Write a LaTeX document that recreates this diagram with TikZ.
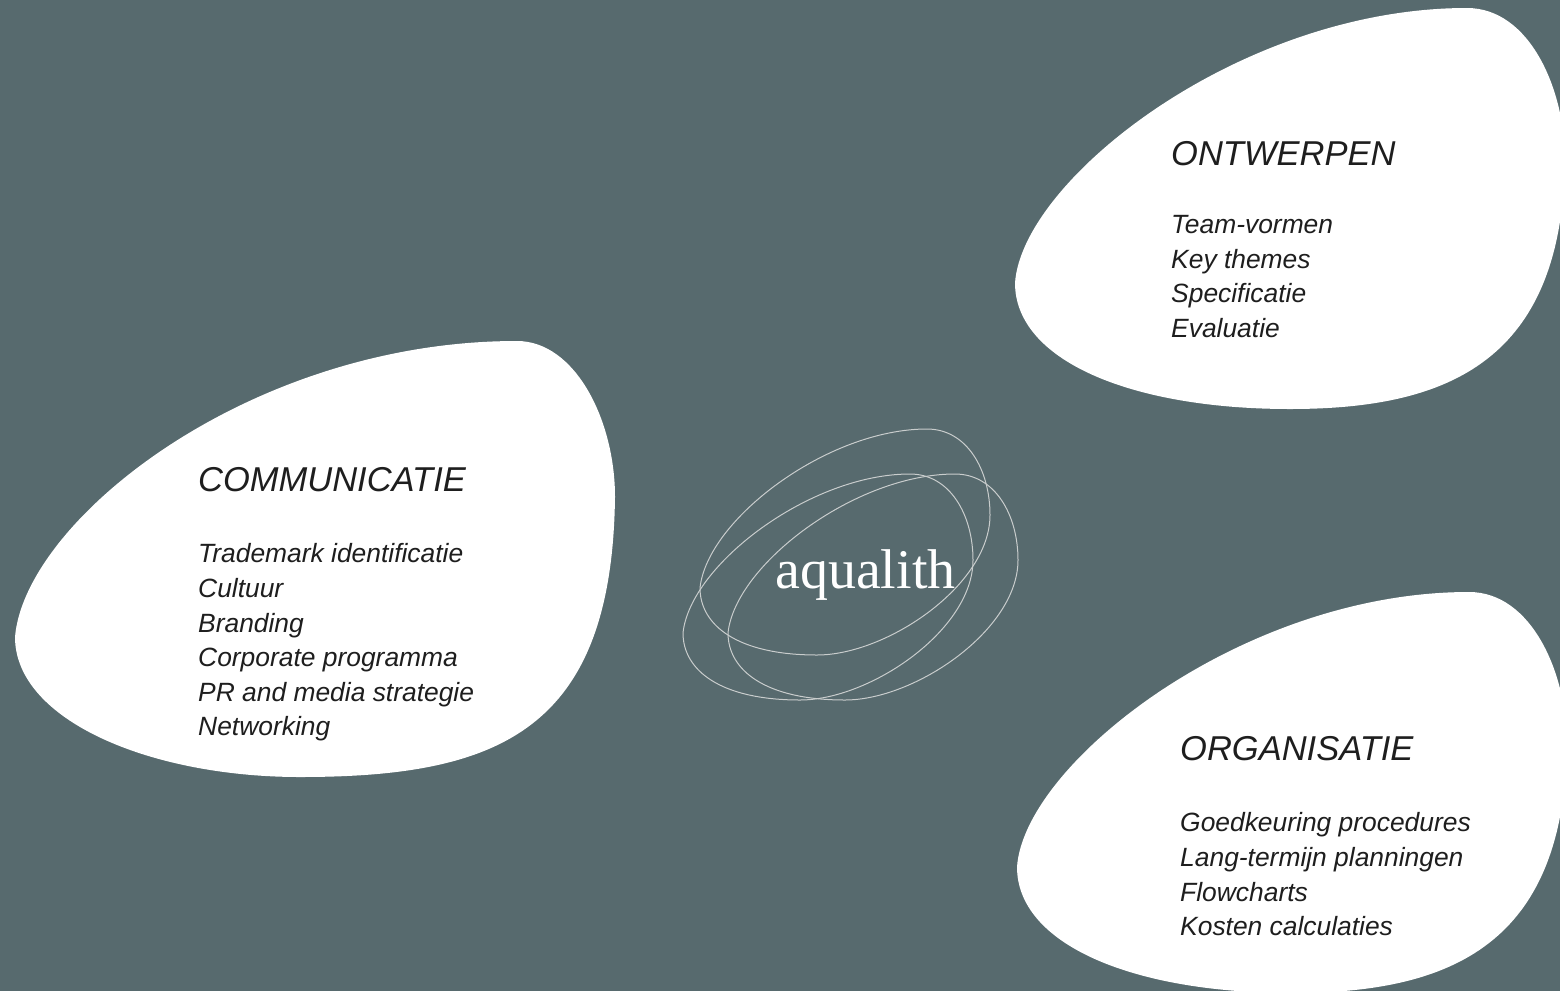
\documentclass[tikz,border=0pt]{standalone}
\usepackage{fontspec}
\setmainfont{Liberation Sans}
\newfontfamily\logofont{Liberation Serif}
\definecolor{bg}{HTML}{576A6E}
\definecolor{ink}{HTML}{1E1E1E}
\definecolor{logoline}{HTML}{C9CDCD}
\begin{document}
\begin{tikzpicture}[x=1pt,y=-1pt,
  blob/.style={fill=white, draw=none},
  titletext/.style={anchor=base west, text=ink, font=\fontsize{34.5}{40}\selectfont\itshape, inner sep=0pt},
  itemtext/.style={anchor=base west, text=ink, font=\fontsize{26.4}{30}\selectfont\itshape, inner sep=0pt},
  pebble/.style={draw=logoline, line width=1pt},
  peb/.pic={\draw[pebble] (683,633) .. controls (690,565) and (810,474) .. (910,474)
      .. controls (950,474) and (973,515) .. (973,560)
      .. controls (973,630) and (870,700) .. (800,700)
      .. controls (720,700) and (683,670) .. (683,633) -- cycle;},
  rblob/.pic={\fill[blob] (1015,283) .. controls (1022,180) and (1240,8) .. (1467,8)
      .. controls (1530,8) and (1565,90) .. (1565,160)
      .. controls (1562,360) and (1450,409) .. (1290,409)
      .. controls (1130,409) and (1015,360) .. (1015,283) -- cycle;}]
\fill[bg] (0,0) rectangle (1560,991);
\useasboundingbox (0,0) rectangle (1560,991);

% white blobs
\fill[blob] (15,637) .. controls (25,520) and (250,341) .. (517,341)
  .. controls (575,341) and (615,420) .. (615,497)
  .. controls (612,730) and (500,777) .. (300,777)
  .. controls (150,777) and (15,720) .. (15,637) -- cycle;
\begin{scope}
  \clip (0,0) rectangle (1560,991);
  \pic at (0,0) {rblob};
  \pic at (2,584) {rblob};
\end{scope}

% logo
\pic at (0,0) {peb};
\pic at (17,-45) {peb};
\pic at (45,0) {peb};
\node[anchor=base west, inner sep=0pt, text=white, font=\logofont\fontsize{56}{60}\selectfont] (logo) at (775,588) {aqualith};

% COMMUNICATIE
\node[titletext] (c0) at (198,491) {COMMUNICATIE};
\node[itemtext] (c1) at (198,562) {Trademark identificatie};
\node[itemtext] (c2) at (198,597) {Cultuur};
\node[itemtext] (c3) at (198,632) {Branding};
\node[itemtext] (c4) at (198,666) {Corporate programma};
\node[itemtext] (c5) at (198,701) {PR and media strategie};
\node[itemtext] (c6) at (198,735) {Networking};

% ONTWERPEN
\node[titletext] (o0) at (1171,165) {ONTWERPEN};
\node[itemtext] (o1) at (1171,233) {Team-vormen};
\node[itemtext] (o2) at (1171,268) {Key themes};
\node[itemtext] (o3) at (1171,302) {Specificatie};
\node[itemtext] (o4) at (1171,337) {Evaluatie};

% ORGANISATIE
\node[titletext] (g0) at (1180,760) {ORGANISATIE};
\node[itemtext] (g1) at (1180,831) {Goedkeuring procedures};
\node[itemtext] (g2) at (1180,866) {Lang-termijn planningen};
\node[itemtext] (g3) at (1180,901) {Flowcharts};
\node[itemtext] (g4) at (1180,935) {Kosten calculaties};
\end{tikzpicture}
\end{document}
